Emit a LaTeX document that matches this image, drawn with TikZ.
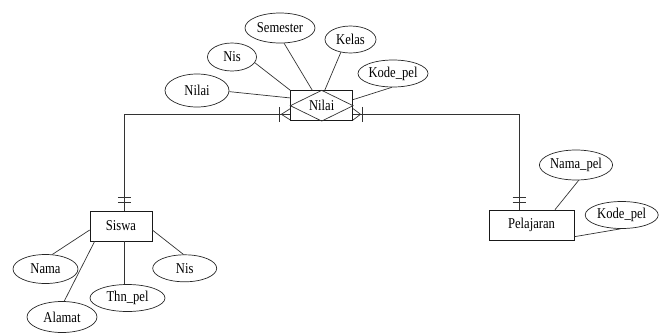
\documentclass[tikz,border=0pt]{standalone}
\usepackage{fontspec}
\setmainfont{Liberation Serif}[FakeStretch=0.84]
\usetikzlibrary{shapes.geometric,calc}

\begin{document}
\begin{tikzpicture}[x=1pt,y=-1pt,
  every node/.style={font=\fontsize{15}{18}\selectfont, inner sep=0pt},
  attr/.style={ellipse, draw=black!85, line width=0.7pt},
  entity/.style={rectangle, draw=black!90, line width=0.7pt},
  link/.style={line width=0.7pt, draw=black!80},
  ]
\useasboundingbox (0,0) rectangle (666,333);

% associative entity Nilai (rectangle with inscribed diamond)
\node[entity, minimum width=62pt, minimum height=30pt] (rel) at (321.7,105.7) {Nilai};
\draw[link] (rel.west) -- (rel.north) -- (rel.east) -- (rel.south) -- cycle;

% entities
\node[entity, minimum width=62pt, minimum height=30pt] (siswa) at (121,226) {Siswa};
\node[entity, minimum width=85pt, minimum height=30pt] (pel) at (531.5,225) {Pelajaran};

% attributes of Nilai
\node[attr, minimum width=64pt, minimum height=33pt] (aNilai) at (197,90.5) {Nilai};
\node[attr, minimum width=49pt, minimum height=28pt] (aNis) at (232,57) {Nis};
\node[attr, minimum width=70pt, minimum height=30pt] (aSem) at (280,28) {Semester};
\node[attr, minimum width=51pt, minimum height=27pt] (aKelas) at (350.5,39.5) {Kelas};
\node[attr, minimum width=70pt, minimum height=27pt] (aKode) at (393,73.5) {Kode\_pel};

% attributes of Siswa
\node[attr, minimum width=65pt, minimum height=29pt] (sNama) at (45.5,269) {Nama};
\node[attr, minimum width=70pt, minimum height=31pt] (sAlamat) at (62,317) {Alamat};
\node[attr, minimum width=75pt, minimum height=27pt] (sThn) at (127.5,298) {Thn\_pel};
\node[attr, minimum width=64pt, minimum height=27pt] (sNis) at (184.7,268.3) {Nis};

% attributes of Pelajaran
\node[attr, minimum width=73pt, minimum height=30pt] (pNama) at (576,165) {Nama\_pel};
\node[attr, minimum width=73pt, minimum height=27pt] (pKode) at (621.7,215) {Kode\_pel};

% attribute connectors of Nilai
\draw[link] (aNilai.-2) -- ($(rel.north west)+(0,7.6)$);
\draw[link] (aNis.-14) -- (rel.north west);
\draw[link] (aSem.-75) -- ($(rel.north west)+(22,0)$);
\draw[link] (aKelas.-127) -- ($(rel.north)+(3,0)$);
\draw[link] (aKode.-95) -- ($(rel.north east)+(0,9.3)$);

% attribute connectors of Siswa
\draw[link] (sNama.65) -- ($(siswa.west)+(0,4)$);
\draw[link] (sAlamat.82) -- ($(siswa.south west)+(5,0)$);
\draw[link] ($(siswa.south)+(3.3,0)$) -- ($(sThn.north)+(-3.2,0)$);
\draw[link] (sNis.95) -- ($(siswa.east)+(0,4)$);

% attribute connectors of Pelajaran
\draw[link] (pNama.-80) -- ($(pel.north)+(23.5,0)$);
\draw[link] (pKode.-95) -- ($(pel.east)+(0,11.7)$);

% relationship lines
\coordinate (lf) at ($(rel.west)+(0,8.6)$);
\coordinate (rf) at ($(rel.east)+(0,8.6)$);
\coordinate (sLink) at ($(siswa.north)+(3.3,0)$);
\coordinate (pLink) at ($(pel.north)+(-12.5,0)$);

\draw[link] (sLink) |- (lf);
\draw[link] (pLink) |- (rf);

% one-and-only-one marks
\draw[link] ($(sLink)+(-6.5,-13)$) -- ++(13,0);
\draw[link] ($(sLink)+(-6.5,-8)$) -- ++(13,0);
\draw[link] ($(pLink)+(-6.5,-12)$) -- ++(13,0);
\draw[link] ($(pLink)+(-6.5,-7)$) -- ++(13,0);

% crow's feet at the associative entity
\draw[link] ($(lf)+(-10.7,-7.5)$) -- ++(0,15);
\draw[link] ($(lf)+(0,-5.7)$) -- ($(lf)+(-9,0)$) -- ($(lf)+(0,5.7)$);
\draw[link] ($(rf)+(9,-7.5)$) -- ++(0,15);
\draw[link] ($(rf)+(0,-5.7)$) -- ($(rf)+(7.5,0)$) -- ($(rf)+(0,5.7)$);
\end{tikzpicture}
\end{document}
